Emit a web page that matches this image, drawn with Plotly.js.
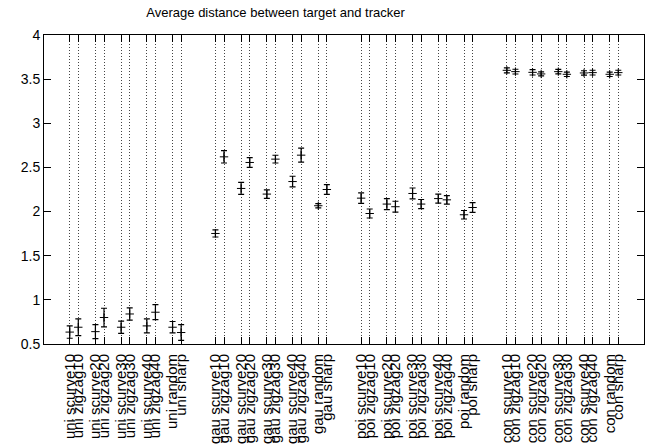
<!DOCTYPE html>
<html>
<head>
<meta charset="utf-8">
<script src="https://cdn.plot.ly/plotly-3.0.1.min.js"></script>
<style>html,body{margin:0;padding:0;background:#fff}#chart{width:648px;height:444px}</style>
</head>
<body>
<div id="chart"></div>
<script>
// Data
const distributions = ['uni', 'gau', 'poi', 'con'];
const patterns = ['scurve10', 'zigzag10', 'scurve20', 'zigzag20', 'scurve30', 'zigzag30', 'scurve40', 'zigzag40', 'random', 'sharp'];

const uniMean = [0.635, 0.69, 0.64, 0.80, 0.69, 0.84, 0.705, 0.86, 0.69, 0.63];
const uniErr  = [0.07, 0.095, 0.08, 0.105, 0.07, 0.07, 0.08, 0.085, 0.065, 0.09];
const gauMean = [1.752, 2.62, 2.262, 2.556, 2.198, 2.594, 2.34, 2.639, 2.066, 2.25];
const gauErr  = [0.04, 0.07, 0.068, 0.055, 0.048, 0.044, 0.06, 0.079, 0.024, 0.055];
const poiMean = [2.152, 1.978, 2.085, 2.055, 2.205, 2.085, 2.147, 2.133, 1.964, 2.046];
const poiErr  = [0.06, 0.051, 0.062, 0.062, 0.062, 0.052, 0.051, 0.048, 0.048, 0.056];
const conMean = [3.60, 3.585, 3.577, 3.559, 3.585, 3.555, 3.57, 3.574, 3.555, 3.574];
const conErr  = [0.028, 0.027, 0.03, 0.023, 0.025, 0.025, 0.025, 0.027, 0.025, 0.027];

const means = [uniMean, gauMean, poiMean, conMean];
const errs = [uniErr, gauErr, poiErr, conErr];

// layout positions: groups of 5 pairs, pair spacing 3, group spacing 17
function xpos(g, i) { return g * 17 + Math.floor(i / 2) * 3 + (i % 2); }

const traces = [];
const tickvals = [];
const ticktext = [];
distributions.forEach((d, g) => {
  const xs = patterns.map((p, i) => xpos(g, i));
  patterns.forEach((p, i) => { tickvals.push(xpos(g, i)); ticktext.push(d + ' ' + p); });
  traces.push({
    type: 'scatter', mode: 'markers',
    x: xs, y: means[g],
    marker: {symbol: 'cross-thin', size: 6, color: '#000', line: {color: '#000', width: 1}},
    error_y: {type: 'data', array: errs[g], visible: true, color: '#000', thickness: 1.2, width: 3},
    showlegend: false, hoverinfo: 'skip'
  });
});

const font = {family: '"Liberation Sans", Arial, sans-serif', color: '#000', size: 14};
const layout = {
  width: 648, height: 444,
  margin: {l: 43.5, r: 4, t: 35, b: 100},
  paper_bgcolor: '#fff', plot_bgcolor: '#fff',
  font: font,
  showlegend: false,
  title: {text: 'Average distance between target and tracker', font: {family: font.family, size: 13, color: '#000'},
          xref: 'paper', x: 0.386, xanchor: 'center', yref: 'container', y: 0.973, yanchor: 'middle'},
  xaxis: {
    range: [-3, 67], tickmode: 'array', tickvals: tickvals, ticktext: ticktext,
    tickangle: -90, ticks: 'inside', ticklen: 7, tickcolor: '#000', tickwidth: 1,
    ticklabelstandoff: 3,
    showgrid: true, gridcolor: '#444', griddash: '1px,2px', gridwidth: 1,
    showline: true, linecolor: '#000', linewidth: 1, mirror: 'ticks',
    zeroline: false, tickfont: {family: font.family, size: 15, color: '#000'}
  },
  yaxis: {
    range: [0.5, 4], tickmode: 'array', tickvals: [0.5, 1, 1.5, 2, 2.5, 3, 3.5, 4],
    ticktext: ['0.5', '1', '1.5', '2', '2.5', '3', '3.5', '4'],
    ticks: 'inside', ticklen: 7, tickcolor: '#000', tickwidth: 1,
    showgrid: false, showline: true, linecolor: '#000', linewidth: 1, mirror: 'ticks',
    zeroline: false, tickfont: {family: font.family, size: 14, color: '#000'}
  }
};
Plotly.newPlot('chart', traces, layout, {staticPlot: true, displayModeBar: false});
</script>
</body>
</html>
